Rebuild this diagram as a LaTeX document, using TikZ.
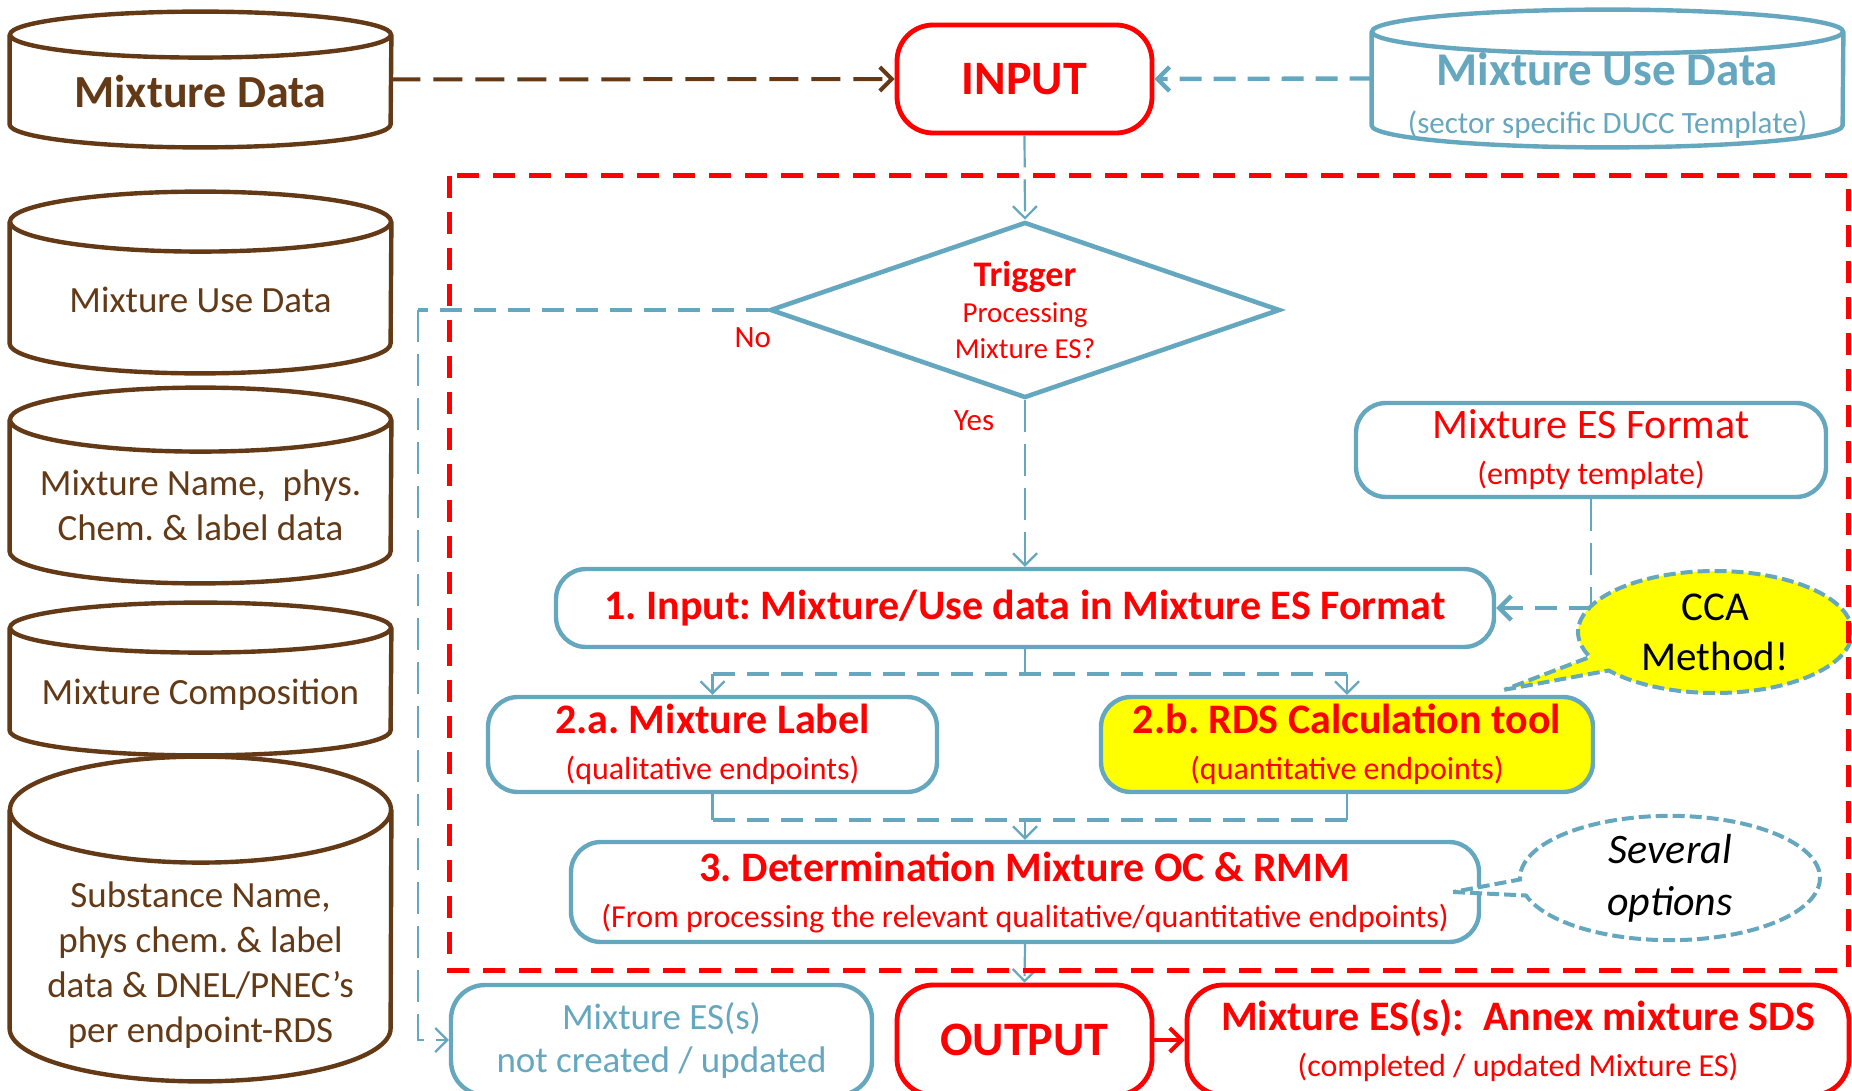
\documentclass[tikz,border=0pt]{standalone}
\usepackage{fontspec}
\setmainfont{Carlito}
\usetikzlibrary{shapes.geometric,shapes.callouts,arrows.meta}

\definecolor{mixbrown}{RGB}{99,57,22}
\definecolor{mixblue}{RGB}{102,167,192}
\definecolor{mixred}{RGB}{255,0,0}
\definecolor{mixyellow}{RGB}{255,255,0}
\frenchspacing

\begin{document}
\begin{tikzpicture}[x=0.5pt,y=-0.5pt,
  every node/.style={inner sep=0pt, align=center},
  drum/.style={minimum width=190.5pt},
  drumtext/.style={text=mixbrown, font=\sz{18.5}{22.5}},
  bluebox/.style={draw=mixblue, line width=2.2pt, rounded corners=15pt,
    fill=white, text=mixred, font=\sz{21}{23}},
  redbox/.style={draw=mixred, line width=2.4pt, rounded corners=18pt,
    fill=white, text=mixred},
  link/.style={draw=mixblue, line width=1.1pt, dash pattern=on 16pt off 6pt},
  widelink/.style={draw=mixblue, line width=2.2pt, dash pattern=on 11pt off 6pt},
  openhead/.style={-{Straight Barb[length=6pt,width=12pt]}},
  yesno/.style={text=mixred, font=\sz{15.5}{18}},
  balloon/.style={ellipse callout, draw=mixblue, line width=2pt,
    dash pattern=on 6pt off 2.5pt, text=black}]

\newcommand\sz[2]{\fontsize{#1}{#2}\selectfont}
%% #1 node, #2 x radius, #3 y radius, #4 colour
\newcommand\drum[4]{%
  \draw[#4, line width=2.2pt, fill=white]
  ([yshift=-#3]#1.north west) -- ([yshift=#3]#1.south west)
  arc[start angle=180, end angle=360, x radius=#2, y radius=#3]
  -- ([yshift=-#3]#1.north east)
  ([yshift=-#3]#1.north) ellipse[x radius=#2, y radius=#3];}

\useasboundingbox (0,0) rectangle (1852,1091);

  %% data stores
  \node[drum, minimum height=67.5pt] (mixdata) at (200.5,79.5) {};
  \node[drum, minimum height=90.5pt] (usedata) at (200.5,282.5) {};
  \node[drum, minimum height=97.5pt] (namedata) at (200.5,485.5) {};
  \node[drum, minimum height=76pt] (compdata) at (200.5,679) {};
  \node[drum, minimum height=162pt] (substdata) at (200.5,919) {};
  \node[drum, minimum width=235.5pt, minimum height=68.5pt] (ducdata) at (1607.5,78.5) {};

  \drum{mixdata}{95.25pt}{11.5pt}{mixbrown}
  \drum{usedata}{95.25pt}{15pt}{mixbrown}
  \drum{namedata}{95.25pt}{16pt}{mixbrown}
  \drum{compdata}{95.25pt}{12.5pt}{mixbrown}
  \drum{substdata}{95.25pt}{26.5pt}{mixbrown}
  \drum{ducdata}{117.75pt}{11pt}{mixblue}

  \node[drumtext, font=\sz{23}{27}\bfseries] (mixdatatxt) at (200.5,92) {Mixture Data};
  \node[drumtext] (usedatatxt) at (200.5,300) {Mixture Use Data};
  \node[drumtext] (namedatatxt) at (200.5,505) {Mixture Name,~ phys.\\Chem. \& label data};
  \node[drumtext] (compdatatxt) at (200.5,695) {Mixture Composition};
  \node[drumtext] (substdatatxt) at (200.5,965)
  {Substance Name,\\phys chem. \& label\\data \& DNEL/PNEC’s\\per endpoint-RDS};
  \node[text=mixblue, font=\sz{15.5}{24}] (ducdatatxt) at (1607.5,96)
  {{\sz{23.5}{24}\bfseries Mixture Use Data}\\(sector specific DUCC Template)};

  %% process steps
  \node[redbox, minimum width=127.5pt, minimum height=54pt, font=\sz{24}{28}\bfseries]
  (input) at (1024.5,79) {INPUT};
  \node[diamond, aspect=2.9, draw=mixblue, line width=2.3pt, fill=white, minimum width=255pt,
  minimum height=88pt, text=mixred, font=\sz{14.5}{18}] (trigger) at (1025,310)
  {{\sz{18}{18}\bfseries Trigger}\\Processing\\Mixture ES?};
  \node[bluebox, minimum width=235pt, minimum height=47pt] (esformat) at (1591,450)
  {Mixture ES Format\\{\sz{16}{23}(empty template)}};
  \node[bluebox, minimum width=469pt, minimum height=39pt, font=\sz{21}{23}\bfseries]
  (dataentry) at (1025,608) {1. Input: Mixture/Use data in Mixture ES Format};
  \node[bluebox, minimum width=224.5pt, minimum height=47.5pt] (labelstep) at (712.5,744.5)
  {{\bfseries 2.a. Mixture Label}\\{\sz{16}{23}(qualitative endpoints)}};
  \node[bluebox, fill=mixyellow, minimum width=246pt, minimum height=47.5pt]
  (rdsstep) at (1347,744.5)
  {{\bfseries 2.b. RDS Calculation tool}\\{\sz{16}{23}(quantitative endpoints)}};
  \node[bluebox, minimum width=454pt, minimum height=50pt] (ocstep) at (1025,892)
  {{\bfseries 3. Determination Mixture OC \& RMM}\\
   {\sz{16}{23}(From processing the relevant qualitative/quantitative endpoints)}};

  %% outputs
  \node[bluebox, text=mixblue, font=\sz{18.5}{21.5}, rounded corners=17pt,
  minimum width=210.5pt, minimum height=55pt] (noes) at (661.5,1040)
  {Mixture ES(s)\\not created / updated};
  \node[redbox, minimum width=127.5pt, minimum height=55pt, font=\sz{24}{28}\bfseries]
  (output) at (1024.5,1040) {OUTPUT};
  \node[redbox, minimum width=331pt, minimum height=55pt, font=\sz{21}{23}]
  (annex) at (1518,1040)
  {{\bfseries Mixture ES(s):~ Annex mixture SDS}\\{\sz{16}{23}(completed / updated Mixture ES)}};

  %% callouts
  \coordinate (ccatip) at ([xshift=-45.5pt,yshift=2.5pt]rdsstep.north east);
  \node[balloon, fill=mixyellow, minimum width=137pt, minimum height=61pt,
  font=\sz{20.5}{25}, callout absolute pointer={(ccatip)}] (cca) at (1715,632)
  {CCA\\Method!};
  \coordinate (opttip) at ([xshift=-14pt]ocstep.east);
  \node[balloon, fill=white, minimum width=150pt, minimum height=61.5pt,
  font=\sz{21}{26}\itshape, callout absolute pointer={(opttip)}] (options) at (1670,878)
  {Several\\options};

  %% into INPUT
  \draw[mixbrown, line width=2pt, dash pattern=on 14.5pt off 6.5pt, openhead]
  (mixdata.east) -- (input.west);
  \draw[widelink, openhead] (ducdata.west) -- (input.east);
  \draw[link, openhead] (input.south) -- (trigger.north);

  %% no / yes
  \coordinate (nobend) at ([xshift=-175pt]trigger.west);
  \draw[widelink] (trigger.west) -- (nobend);
  \draw[link, openhead] (nobend) |- (noes.west);
  \node[yesno] (nolabel) at ([xshift=-7.5pt,yshift=-14pt]trigger.west) {No};
  \draw[link, openhead] (trigger.south) -- (dataentry.north);
  \node[yesno] (yeslabel) at ([xshift=-25.5pt,yshift=-10pt]trigger.south) {Yes};

  %% format into step 1
  \coordinate (esbend) at (esformat.south |- dataentry.east);
  \draw[link] (esformat.south) -- (esbend);
  \draw[widelink, openhead] (esbend) -- (dataentry.east);

  %% split to 2.a / 2.b
  \coordinate (split) at ([yshift=-12.5pt]dataentry.south);
  \draw[link] (dataentry.south) -- (split);
  \draw[widelink] (split -| labelstep.north) -- (split -| rdsstep.north);
  \draw[link, openhead] (split -| labelstep.north) -- (labelstep.north);
  \draw[link, openhead] (split -| rdsstep.north) -- (rdsstep.north);

  %% merge into 3
  \coordinate (merge) at ([yshift=-13pt]labelstep.south);
  \draw[link] (labelstep.south) -- (merge);
  \draw[link] (rdsstep.south) -- (merge -| rdsstep.south);
  \draw[widelink] (merge) -- (merge -| rdsstep.south);
  \draw[link, openhead] (merge -| ocstep.north) -- (ocstep.north);

  %% to output
  \draw[link, openhead] (ocstep.south) -- (output.north);
  \draw[mixred, line width=2pt, openhead] (output.east) -- (annex.west);

  %% frame
  \draw[mixred, line width=2.5pt, dash pattern=on 11pt off 7pt] (449,176) rectangle (1848,970);

\end{tikzpicture}
\end{document}
